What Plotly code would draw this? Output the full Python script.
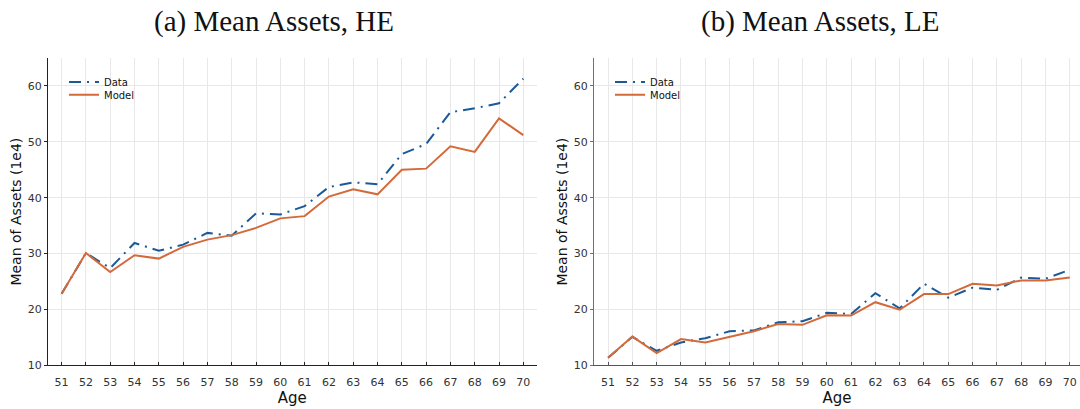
import plotly.graph_objects as go

# Age grid shared by both panels
ages = list(range(51, 71))

# Mean assets (in units of 1e4), high-education group
he_data = [22.8, 30.1, 27.4, 31.9, 30.5, 31.6, 33.7, 33.2, 37.2, 37.0,
           38.5, 41.9, 42.75, 42.4, 47.8, 49.6, 55.3, 56.0, 56.9, 61.3]
he_model = [22.8, 30.1, 26.7, 29.7, 29.1, 31.2, 32.5, 33.3, 34.6, 36.3,
            36.7, 40.2, 41.5, 40.6, 45.0, 45.2, 49.2, 48.2, 54.2, 51.2]

# Mean assets (in units of 1e4), low-education group
le_data = [11.35, 15.1, 12.6, 14.1, 14.85, 16.1, 16.25, 17.7, 17.9, 19.4,
           19.2, 22.9, 20.2, 24.6, 22.1, 23.9, 23.5, 25.7, 25.5, 27.1]
le_model = [11.35, 15.15, 12.2, 14.7, 14.1, 15.15, 16.1, 17.4, 17.25, 18.95,
            18.9, 21.3, 19.95, 22.75, 22.75, 24.6, 24.3, 25.2, 25.2, 25.7]

y_ticks = [10, 20, 30, 40, 50, 60]
panel_titles = ["(a) Mean Assets, HE", "(b) Mean Assets, LE"]

W, H = 1080, 409
BLUE = "#1a5a98"
ORANGE = "#d4693a"
DASH = "12px,6px,2px,6px"

fig = go.Figure()

# each legend entry gets its own legend so the rows can sit close together
panels = [(he_data, he_model, "x", "y", "legend", "legend2"),
          (le_data, le_model, "x2", "y2", "legend3", "legend4")]
for data, model, xa, ya, lg_d, lg_m in panels:
    fig.add_trace(go.Scatter(x=ages, y=data, mode="lines", name="Data",
                             line=dict(color=BLUE, width=2, dash=DASH),
                             xaxis=xa, yaxis=ya, legend=lg_d))
    fig.add_trace(go.Scatter(x=ages, y=model, mode="lines", name="Model",
                             line=dict(color=ORANGE, width=2),
                             xaxis=xa, yaxis=ya, legend=lg_m))

# plot-area geometry in pixels
top_px, bottom_px = 59, 371.7
ydom = [(H - bottom_px) / H, (H - top_px) / H]
left_dom = [48 / W, 536.7 / W]
right_dom = [594 / W, 1.0]

px_per_year = 24.3
left_range = [50.44, 50.44 + (536.7 - 48) / px_per_year]
right_range = [50.42, 50.42 + (1080 - 594) / px_per_year]

sans = "DejaVu Sans"


def xaxis_style(dom, rng, linecolor):
    return dict(domain=dom, range=rng, tickvals=ages, ticks="inside",
                ticklen=3, tickcolor=linecolor, showline=True,
                linecolor=linecolor, linewidth=1.2, showgrid=True,
                gridcolor="#e8e8e8", gridwidth=1, zeroline=False,
                tickfont=dict(family=sans, size=11, color="#333"),
                ticklabelstandoff=6,
                title=dict(text="Age", font=dict(family=sans, size=15, color="#111"),
                           standoff=4))


def yaxis_style(anchor, linecolor):
    return dict(domain=ydom, range=[10, 65], tickvals=y_ticks, ticks="outside",
                ticklen=3, tickcolor=linecolor, showline=True,
                linecolor=linecolor, linewidth=1.2, showgrid=True,
                gridcolor="#e8e8e8", gridwidth=1, zeroline=False,
                anchor=anchor,
                tickfont=dict(family=sans, size=11, color="#333"),
                title=dict(text="Mean of Assets (1e4)",
                           font=dict(family=sans, size=14, color="#111"),
                           standoff=2))


def legend_style(xpx, ypx):
    return dict(x=xpx / W, y=(H - ypx) / H, xanchor="left", yanchor="middle",
                bgcolor="rgba(0,0,0,0)", borderwidth=0,
                font=dict(family=sans, size=10, color="#111"),
                tracegroupgap=0, itemwidth=30)


fig.update_layout(
    width=W, height=H,
    margin=dict(l=0, r=0, t=0, b=0),
    paper_bgcolor="white", plot_bgcolor="white",
    showlegend=True,
    xaxis=xaxis_style(left_dom, left_range, "#222"),
    yaxis=yaxis_style("x", "#222"),
    xaxis2=xaxis_style(right_dom, right_range, "#555"),
    yaxis2=yaxis_style("x2", "#707070"),
    legend=legend_style(64, 83.5),
    legend2=legend_style(64, 96.5),
    legend3=legend_style(610, 83.5),
    legend4=legend_style(610, 96.5),
)

# white backing panel behind each legend, above the grid
for x0 in (58, 604):
    fig.add_shape(type="rect", xref="paper", yref="paper",
                  x0=x0 / W, x1=(x0 + 82) / W,
                  y0=(H - 110) / H, y1=(H - 75) / H,
                  fillcolor="white", line=dict(width=0), layer="between")

for text, cx in zip(panel_titles, [274, 820]):
    fig.add_annotation(text=text, x=cx / W, y=(H - 22) / H, xref="paper",
                       yref="paper", xanchor="center", yanchor="middle",
                       showarrow=False,
                       font=dict(family="Liberation Serif", size=29, color="#111"))

fig.write_html("out.html")
